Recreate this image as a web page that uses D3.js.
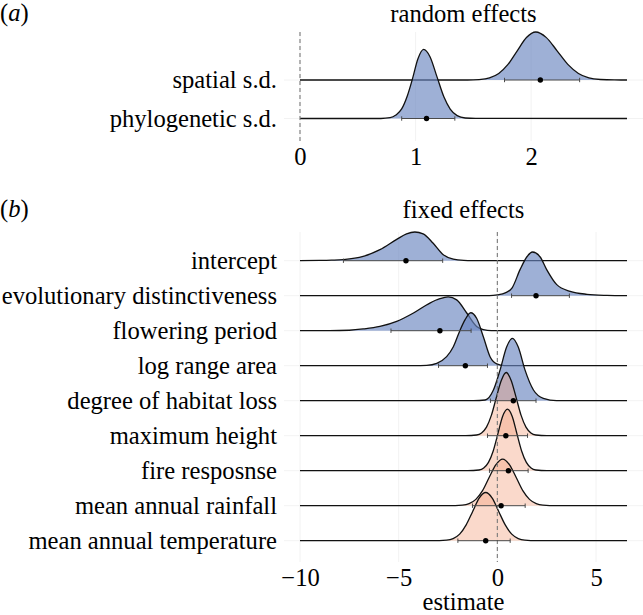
<!DOCTYPE html>
<html><head><meta charset="utf-8">
<script src="https://cdn.jsdelivr.net/npm/d3@7"></script>
<style>
body{margin:0;background:#fff;}
svg{display:block;}
text{font-family:"Liberation Serif",serif;fill:#000;}
</style></head><body>
<svg id="chart" width="643" height="615"></svg>
<script>
// ---------- DATA ----------
// panel (a): random effects
const rowsTop = ["spatial s.d.", "phylogenetic s.d."];
const ticksTop = [0, 1, 2];
const densSpatial = [[1.45,0],[1.55,0.024],[1.64,0.11],[1.72,0.34],[1.80,0.81],[1.88,1.52],[1.96,2.21],[2.04,2.5],[2.13,2.22],[2.225,1.52],[2.32,0.80],[2.41,0.34],[2.50,0.11],[2.60,0.025],[2.72,0.003]];
const densPhylo = [[0.70,0],[0.78,0.04],[0.83,0.18],[0.88,0.5],[0.93,1.2],[0.975,2.1],[1.02,3.1],[1.07,3.6],[1.125,3.22],[1.185,2.18],[1.245,1.13],[1.30,0.49],[1.36,0.15],[1.43,0.027],[1.52,0.003]];
const medTop = [2.08, 1.095];
const loTop  = [1.77, 0.88];
const hiTop  = [2.42, 1.34];

// panel (b): fixed effects
const rowsBottom = ["intercept", "evolutionary distinctiveness", "flowering period", "log range area",
  "degree of habitat loss", "maximum height", "fire resposnse", "mean annual rainfall", "mean annual temperature"];
const ticksBottom = [-10, -5, 0, 5];
const supportedBottom = [1, 1, 1, 1, 1, 0, 0, 0, 0];
const densIntercept = [[-9.0,0.003],[-8.4,0.007],[-7.8,0.014],[-6.8,0.054],[-5.95,0.14],[-5.1,0.27],[-4.6,0.34],[-4.18,0.363],[-3.76,0.34],[-3.25,0.22],[-2.74,0.076],[-2.23,0.02],[-1.7,0.003],[-1.3,0]];
const densEvol = [[-0.4,0],[0.0,0.01],[0.4,0.035],[0.75,0.1],[1.15,0.33],[1.49,0.49],[1.78,0.553],[2.17,0.49],[2.5,0.33],[3.01,0.14],[3.69,0.055],[4.54,0.018],[5.55,0.004],[6.3,0]];
const densFlower = [[-8.5,0],[-7.5,0.006],[-6.8,0.022],[-5.95,0.054],[-5.1,0.118],[-4.25,0.224],[-3.42,0.35],[-2.91,0.405],[-2.49,0.427],[-2.06,0.39],[-1.55,0.224],[-1.05,0.054],[-0.71,0.013],[-0.3,0]];
const densLogRange = [[-4.2,0],[-3.58,0.004],[-3.07,0.03],[-2.57,0.114],[-2.23,0.24],[-1.89,0.45],[-1.64,0.58],[-1.35,0.67],[-1.05,0.6],[-0.71,0.367],[-0.37,0.114],[-0.03,0.022],[0.35,0]];
const densHabitat = [[-1.2,0],[-0.62,0.009],[-0.2,0.135],[0.14,0.39],[0.47,0.68],[0.76,0.79],[1.06,0.68],[1.4,0.39],[1.83,0.135],[2.33,0.03],[3.0,0]];
const densMaxHeight = [[-1.6,0],[-1.05,0.009],[-0.8,0.035],[-0.55,0.108],[-0.3,0.26],[-0.05,0.485],[0.2,0.7],[0.45,0.8],[0.7,0.7],[0.95,0.485],[1.2,0.26],[1.45,0.108],[1.7,0.035],[1.95,0.009],[2.5,0]];
const densFire = [[-1.5,0],[-0.93,0.009],[-0.69,0.034],[-0.45,0.105],[-0.21,0.25],[0.03,0.47],[0.27,0.69],[0.51,0.78],[0.75,0.69],[0.99,0.47],[1.23,0.25],[1.47,0.105],[1.71,0.034],[1.95,0.009],[2.5,0]];
const densRain = [[-2.5,0],[-1.77,0.007],[-1.43,0.026],[-1.09,0.08],[-0.75,0.19],[-0.41,0.36],[-0.07,0.52],[0.27,0.59],[0.61,0.52],[0.95,0.36],[1.29,0.19],[1.63,0.08],[1.97,0.026],[2.31,0.007],[3.0,0]];
const densTemp = [[-3.3,0],[-2.57,0.007],[-2.24,0.027],[-1.91,0.083],[-1.58,0.2],[-1.25,0.37],[-0.92,0.54],[-0.59,0.61],[-0.26,0.54],[0.07,0.37],[0.4,0.2],[0.73,0.083],[1.06,0.027],[1.39,0.007],[2.0,0]];
const medBottom = [-4.63, 1.96, -2.91, -1.62, 0.81, 0.43, 0.56, 0.19, -0.59];
const loBottom  = [-7.8, 0.72, -5.39, -2.98, -0.35, -0.5, -0.4, -1.26, -2.0];
const hiBottom  = [-2.77, 3.65, -1.33, -0.5, 1.96, 1.53, 1.56, 1.41, 0.65];

// ---------- DRAW ----------
const svg = d3.select("#chart");
const FS = 24.6;
const panelL = 284, panelR = 643, plotL = 300, plotR = 627;
const fillColor = d3.scaleOrdinal().domain([1, 0]).range(["#6a85c0", "#f4a582"]);
const fillOpacity = d3.scaleOrdinal().domain([1, 0]).range([0.65, 0.42]);
const tickFmt = d => (d < 0 ? "\u2212" + Math.abs(d) : String(d));

function drawPanel(c) {
  const g = svg.append("g");
  const x = d3.scaleLinear().domain(c.xDomain).range([plotL, plotR]);
  const y = d3.scalePoint().domain(c.rows).range(c.rowRange);
  const h = d3.scaleLinear().domain([0, 1]).range([0, c.pxPerDensity]);

  // grid
  g.selectAll(".hg").data(c.rows).join("line")
    .attr("x1", panelL).attr("x2", panelR)
    .attr("y1", d => y(d)).attr("y2", d => y(d))
    .attr("stroke", "#efefef").attr("stroke-width", 0.8);
  g.selectAll(".vg").data(c.ticks).join("line")
    .attr("x1", d => x(d)).attr("x2", d => x(d))
    .attr("y1", c.panelTop).attr("y2", c.panelBottom)
    .attr("stroke", "#efefef").attr("stroke-width", 0.8);

  // ridges (top row first, lower rows drawn on top)
  const area = d3.area().x(d => x(d[0])).curve(d3.curveMonotoneX);
  const line = d3.line().x(d => x(d[0])).curve(d3.curveMonotoneX);
  c.rows.forEach((r, i) => {
    const base = y(r);
    const pts = [[c.xDomain[0], 0], ...c.dens[i], [c.xDomain[1], 0]];
    const grp = c.groups[i];
    g.append("path").datum(pts)
      .attr("d", area.y0(base).y1(d => base - h(d[1])))
      .attr("fill", fillColor(grp)).attr("fill-opacity", fillOpacity(grp));
    g.append("path").datum(pts)
      .attr("d", line.y(d => base - h(d[1])))
      .attr("fill", "none").attr("stroke", "#111").attr("stroke-width", 1.3);
  });

  // zero reference line
  g.append("line")
    .attr("x1", x(0)).attr("x2", x(0))
    .attr("y1", c.panelTop).attr("y2", c.panelBottom)
    .attr("stroke", "#7a7a7a").attr("stroke-width", 1.1)
    .attr("stroke-dasharray", "4,3");

  // intervals and medians
  c.rows.forEach((r, i) => {
    const base = y(r);
    g.append("line").attr("x1", x(c.lo[i])).attr("x2", x(c.hi[i]))
      .attr("y1", base).attr("y2", base).attr("stroke", "#4a4a4a").attr("stroke-width", 1);
    [c.lo[i], c.hi[i]].forEach(v => {
      g.append("line").attr("x1", x(v)).attr("x2", x(v))
        .attr("y1", base - 2.2).attr("y2", base + 2.2)
        .attr("stroke", "#4a4a4a").attr("stroke-width", 1);
    });
    g.append("circle").attr("cx", x(c.med[i])).attr("cy", base).attr("r", 2.7).attr("fill", "#000");
  });

  // y labels
  g.selectAll(".yl").data(c.rows).join("text")
    .attr("x", 277).attr("y", d => y(d) + 8)
    .attr("text-anchor", "end").attr("font-size", FS).text(d => d);

  // x axis
  const ax = g.append("g").attr("transform", `translate(0,${c.tickY})`)
    .call(d3.axisBottom(x).tickValues(c.ticks).tickFormat(tickFmt).tickSize(0).tickPadding(0));
  ax.select(".domain").remove();
  ax.attr("font-size", FS).attr("font-family", null);
  ax.selectAll("text").attr("y", 0).attr("dy", 0).attr("fill", "#000");

  // title & tag
  g.append("text").attr("x", (panelL + panelR) / 2).attr("y", c.titleY)
    .attr("text-anchor", "middle").attr("font-size", FS).text(c.title);
  const tag = g.append("text").attr("x", 0).attr("y", c.titleY - 1).attr("font-size", FS);
  tag.append("tspan").text("(");
  tag.append("tspan").attr("font-style", "italic").text(c.tag);
  tag.append("tspan").text(")");

  if (c.xlabel) {
    g.append("text").attr("x", (panelL + panelR) / 2).attr("y", c.xlabelY)
      .attr("text-anchor", "middle").attr("font-size", FS).text(c.xlabel);
  }
}

drawPanel({
  rows: rowsTop, dens: [densSpatial, densPhylo], groups: [1, 1],
  med: medTop, lo: loTop, hi: hiTop,
  xDomain: [0, 2.83], ticks: ticksTop, rowRange: [80, 118.5], pxPerDensity: 19.2,
  panelTop: 32, panelBottom: 141, tickY: 165,
  title: "random effects", titleY: 22, tag: "a"
});
drawPanel({
  rows: rowsBottom,
  dens: [densIntercept, densEvol, densFlower, densLogRange, densHabitat, densMaxHeight, densFire, densRain, densTemp],
  groups: supportedBottom,
  med: medBottom, lo: loBottom, hi: hiBottom,
  xDomain: [-10, 6.57], ticks: ticksBottom, rowRange: [260.7, 540.7], pxPerDensity: 79,
  panelTop: 232, panelBottom: 562, tickY: 586,
  title: "fixed effects", titleY: 218, tag: "b",
  xlabel: "estimate", xlabelY: 610
});
</script>
</body></html>
